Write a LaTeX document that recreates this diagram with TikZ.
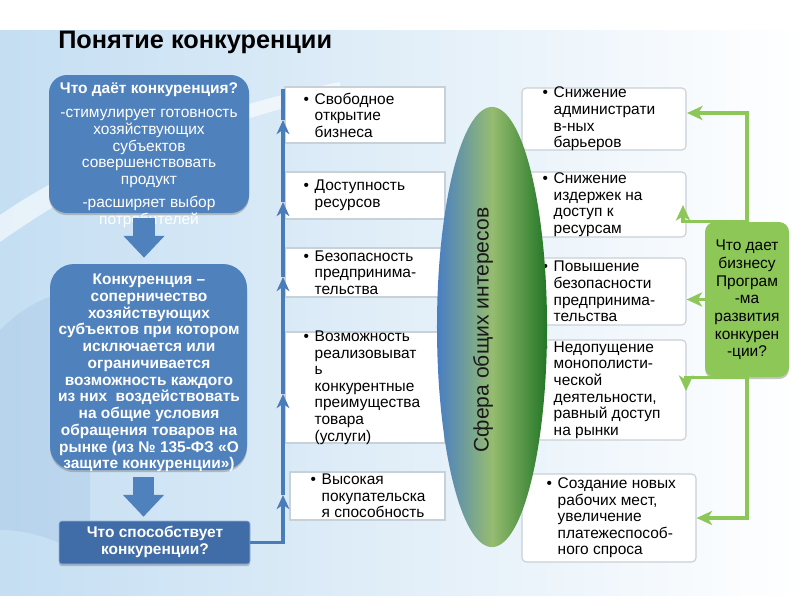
\documentclass[tikz,border=0pt]{standalone}
\usepackage{fontspec}
\setmainfont{Liberation Sans}
\usetikzlibrary{arrows.meta,shapes.geometric,fit,shadows,calc}

\definecolor{boxblue}{RGB}{79,129,189}
\definecolor{darkblue}{RGB}{64,108,168}
\definecolor{lineblue}{RGB}{74,124,186}
\definecolor{grassgreen}{RGB}{141,199,87}
\definecolor{itemgray}{RGB}{200,208,216}
\definecolor{paleblue}{RGB}{196,222,242}
\definecolor{ellblue}{RGB}{72,126,196}
\definecolor{ellmid}{RGB}{150,188,112}
\definecolor{ellgreen}{RGB}{34,118,38}

\tikzset{
  bluebox/.style={fill=boxblue, inner sep=0pt,
    drop shadow={shadow xshift=0pt, shadow yshift=-1.5pt, opacity=.45}},
  boxtext/.style={text=white, align=center, inner sep=0pt,
    font=\fontsize{11}{12}\selectfont},
  itembox/.style={draw=itemgray, fill=white, inner sep=0pt, line width=.8pt},
  rightbox/.style={itembox, rounded corners=3pt},
  itemtext/.style={anchor=west, align=left, inner sep=0pt,
    font=\fontsize{11}{11.8}\selectfont},
  blockarrow/.style={draw=boxblue, line width=15.6pt,
    -{Triangle[length=15.6pt,width=28.4pt]}},
  bluearrow/.style={draw=lineblue, line width=2.2pt,
    -{Stealth[length=10pt,width=9pt,inset=3pt]}},
  greenarrow/.style={draw=grassgreen, line width=2.2pt,
    -{Stealth[length=11pt,width=10pt,inset=3pt]}},
}
\newcommand{\bul}{\llap{\textbullet\hspace{4pt}}}

\begin{document}
\begin{tikzpicture}[x=0.025cm, y=-0.025cm]
\useasboundingbox (0,0) rectangle (800,600);

% background
\fill[left color=paleblue, right color=white] (0,30) rectangle (800,595);
\fill[white, opacity=.6] (0,215) .. controls (80,160) and (200,110) .. (340,82)
  -- (340,94) .. controls (200,125) and (90,178) .. (0,242) -- cycle;
\fill[paleblue!70!boxblue, opacity=.35] (0,330) .. controls (30,300) and (60,290) .. (90,290)
  -- (90,560) .. controls (60,540) and (30,530) .. (0,530) -- cycle;

\node[anchor=base west, inner sep=0pt, font=\bfseries\fontsize{18}{20}\selectfont] (title)
  at (58,48) {Понятие конкуренции};

% left column
\node[bluebox, rounded corners=0.45cm, fit={(49,75) (249,213)}] (b1) {};
\node[boxtext] (b1t) at (149,155) {\textbf{Что даёт конкуренция?}\\[5pt]
  -стимулирует готовность\\ хозяйствующих\\ субъектов\\ совершенствовать\\ продукт\\[4pt]
  -расширяет выбор\\ потребителей};

\node[bluebox, rounded corners=0.6cm, fit={(50,264) (247,470)}] (b2) {};
\node[boxtext, font=\bfseries\fontsize{11}{11.9}\selectfont] (b2t) at (149,373)
  {Конкуренция –\\ соперничество\\ хозяйствующих\\ субъектов при котором\\
   исключается или\\ ограничивается\\ возможность каждого\\ из них\ \ воздействовать\\
   на общие условия\\ обращения товаров на\\ рынке (из № 135-ФЗ «О\\ защите конкуренции»)};

\node[bluebox, fill=darkblue, draw=boxblue!60, rounded corners=2pt,
  fit={(59,521) (250,564)}] (b3) {};
\node[boxtext, font=\bfseries\fontsize{11}{12.5}\selectfont] (b3t) at (155,542)
  {Что способствует\\ конкуренции?};

\draw[blockarrow] ($(b1.south)+(-5,5)$) -- ($(b1.south |- b2.north)+(-5,-6)$);
\draw[blockarrow] ($(b2.south)+(-5,7)$) -- ($(b2.south |- b3.north)+(-5,-4)$);

% middle column
\node[itembox, fit={(285,87) (445,143)}] (m1) {};
\node[itembox, fit={(285,172) (445,219)}] (m2) {};
\node[itembox, fit={(285,248) (445,297)}] (m3) {};
\node[itembox, fit={(285,332) (445,443)}] (m4) {};
\node[itembox, fit={(290,472) (445,520)}] (m5) {};

\node[itemtext] (m1t) at ([xshift=0.75cm]m1.west) {\bul Свободное\\ открытие\\ бизнеса};
\node[itemtext] (m2t) at ([xshift=0.75cm]m2.west) {\bul Доступность\\ ресурсов};
\node[itemtext] (m3t) at ([xshift=0.75cm]m3.west) {\bul Безопасность\\ предпринима-\\ тельства};
\node[itemtext] (m4t) at ([xshift=0.75cm]m4.west) {\bul Возможность\\ реализовыват\\ ь\\
  конкурентные\\ преимущества\\ товара\\ (услуги)};
\node[itemtext] (m5t) at ([xshift=0.8cm]m5.west) {\bul Высокая\\ покупательска\\ я способность};

\coordinate (u1) at (283,495);
\coordinate (u2) at (283,394);
\coordinate (u3) at (283,277);
\coordinate (u4) at (283,202);
\coordinate (u5) at (283,120);
\coordinate (u6) at (283,89);
\draw[bluearrow] (b3.east) -| (u1);
\draw[bluearrow] (u1) -- (u2);
\draw[bluearrow] (u2) -- (u3);
\draw[bluearrow] (u3) -- (u4);
\draw[bluearrow] (u4) -- (u5);
\draw[bluearrow, -] (u5) -- (u6);

% right column
\node[rightbox, fit={(522,88) (686,150)}] (r1) {};
\node[rightbox, fit={(522,172) (686,237)}] (r2) {};
\node[rightbox, fit={(522,258) (686,325)}] (r3) {};
\node[rightbox, fit={(522,340) (686,440)}] (r4) {};
\node[rightbox, fit={(522,474) (696,562)}] (r5) {};

\node[itemtext] (r1t) at ([xshift=0.8cm]r1.west) {\bul Снижение\\ администрати\\ в-ных\\ барьеров};
\node[itemtext] (r2t) at ([xshift=0.8cm]r2.west) {\bul Снижение\\ издержек на\\ доступ к\\ ресурсам};
\node[itemtext] (r3t) at ([xshift=0.8cm]r3.west) {\bul Повышение\\ безопасности\\ предпринима-\\ тельства};
\node[itemtext] (r4t) at ([xshift=0.8cm]r4.west) {\bul Недопущение\\ монополисти-\\ ческой\\
  деятельности,\\ равный доступ\\ на рынки};
\node[itemtext] (r5t) at ([xshift=0.9cm]r5.west) {\bul Создание новых\\ рабочих мест,\\
  увеличение\\ платежеспособ-\\ ного спроса};

% sphere
\node[ellipse, minimum width=2.75cm, minimum height=11cm, inner sep=0pt,
  left color=ellblue, right color=ellgreen, middle color=ellmid] (sphere) at (492,327) {};
\node[rotate=90, font=\fontsize{15}{17}\selectfont, text=black!90] (spheret) at (483,330)
  {Сфера общих интересов};

% green side
\node[fill=grassgreen, rounded corners=0.25cm, inner sep=0pt, fit={(705,222) (789,377)},
  drop shadow={shadow xshift=0pt, shadow yshift=-1.5pt, opacity=.45}] (g) {};
\node[align=center, inner sep=0pt, font=\fontsize{11}{12.6}\selectfont] (gt) at (747,300)
  {Что дает\\ бизнесу\\ Програм\\ -ма\\ развития\\ конкурен\\ -ции?};

\coordinate (v1) at (687,113);
\coordinate (v2) at (683,205);
\coordinate (v4) at (686,391);
\draw[greenarrow] (g.north) |- (v1);
\draw[greenarrow] (g.north) -- (g.north -| v2) -- (v2);
\draw[greenarrow] (g.west) -- (g.west -| r3.east);
\draw[greenarrow] (g.south) -- (g.south -| v4) -- (v4);
\draw[greenarrow] (g.south) |- (r5.east);
\end{tikzpicture}
\end{document}
